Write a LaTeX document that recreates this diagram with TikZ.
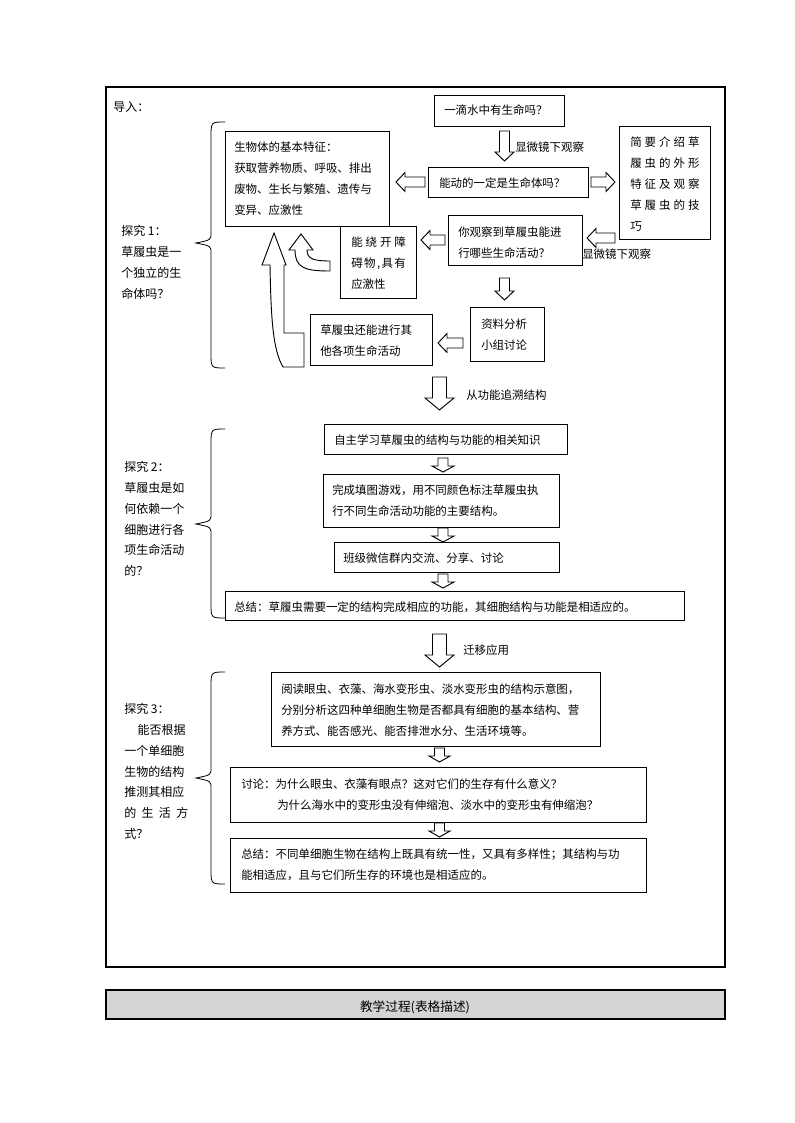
\documentclass[tikz,border=0pt]{standalone}
\usepackage{fontspec}
\setmainfont{Noto Sans CJK SC}
\begin{document}
\begin{tikzpicture}[x=0.75pt,y=-0.75pt,
  box/.style={draw,line width=0.7pt},
  txt/.style={anchor=west,align=left,inner sep=0pt,font=\fontsize{8.6}{15.8}\selectfont},
  side/.style={anchor=west,align=left,inner sep=0pt,font=\fontsize{9}{15.6}\selectfont},
  blk/.style={draw,line width=0.7pt,fill=white}]
\newcommand\darr[6]{\draw[blk] ({#1-#4},#2) -- ({#1+#4},#2) -- ({#1+#4},{#3-#6}) -- ({#1+#5},{#3-#6}) -- (#1,#3) -- ({#1-#5},{#3-#6}) -- ({#1-#4},{#3-#6}) -- cycle;}
\newcommand\larr[3]{\draw[blk] (#1,{#3-5}) -- ({#2+9},{#3-5}) -- ({#2+9},{#3-9.5}) -- (#2,#3) -- ({#2+9},{#3+9.5}) -- ({#2+9},{#3+5}) -- (#1,{#3+5}) -- cycle;}
\newcommand\rarr[3]{\draw[blk] (#1,{#3-5}) -- ({#2-9},{#3-5}) -- ({#2-9},{#3-9.5}) -- (#2,#3) -- ({#2-9},{#3+9.5}) -- ({#2-9},{#3+5}) -- (#1,{#3+5}) -- cycle;}
\newcommand\brc[3]{\draw[line width=0.6pt] (225,#1) .. controls (211,#1) .. (211,{#1+15}) -- (211,{#2-10}) .. controls (211,{#2-3}) .. (196,#2) .. controls (211,{#2+3}) .. (211,{#2+10}) -- (211,{#3-15}) .. controls (211,#3) .. (225,#3);}
\newcommand\spr[2]{\makebox[#1][s]{#2}}
\useasboundingbox (0,0) rectangle (794,1123);
% frame
\draw[line width=0.8pt] (106,87) rectangle (725,967);
\draw[line width=0.8pt,fill=black!17] (106,990) rectangle (725,1019);
\node[txt,anchor=center] (title) at (415,1007) {\fontsize{9.5}{12}\selectfont 教学过程(表格描述)};
\node[side] (intro) at (113,107) {导入：};
% section 1
\draw[box] (434,95) rectangle (564,126); \node[txt] (q1) at (444,110) {一滴水中有生命吗？};
\draw[box] (225,131) rectangle (389,226); \node[txt] (feat) at (234,179) {生物体的基本特征：\\获取营养物质、呼吸、排出\\废物、生长与繁殖、遗传与\\变异、应激性};
\draw[box] (428,167) rectangle (588,197); \node[txt] (move) at (439,183) {能动的一定是生命体吗？};
\draw[box] (619,126) rectangle (710,239); \node[txt] (intr) at (630,184) {\spr{52pt}{简\hfill 要\hfill 介\hfill 绍\hfill 草}\\\spr{52pt}{履\hfill 虫\hfill 的\hfill 外\hfill 形}\\\spr{52pt}{特\hfill 征\hfill 及\hfill 观\hfill 察}\\\spr{52pt}{草\hfill 履\hfill 虫\hfill 的\hfill 技}\\巧};
\draw[box] (448,215) rectangle (582,265); \node[txt] (obs) at (458,243) {你观察到草履虫能进\\行哪些生命活动？};
\draw[box] (340,226) rectangle (416,298); \node[txt] (avoid) at (351,263) {\spr{41pt}{能\hfill 绕\hfill 开\hfill 障}\\\spr{41pt}{碍\hfill 物\hfill ,\hfill 具\hfill 有}\\应激性};
\draw[box] (470,307) rectangle (544,361); \node[txt] (data) at (481,335) {资料分析\\小组讨论};
\draw[box] (310,314) rectangle (432,365); \node[txt] (other) at (320,341) {草履虫还能进行其\\他各项生命活动};
\darr{504.5}{131}{161}{5}{9.5}{9}
\node[txt] (l1) at (515,147) {显微镜下观察};
\larr{425}{396}{182}
\rarr{591}{615}{182}
\larr{615}{587}{238}
\node[txt] (l2) at (582,254) {显微镜下观察};
\larr{445}{421}{240}
\darr{504.5}{278}{300}{5}{9.5}{9}
\larr{463}{438}{343}
% curved arrows
\draw[blk] (295,250) .. controls (295,268) and (305,271) .. (330,271) -- (330,261) .. controls (314,261) and (307,259) .. (307,250) -- (313,250) -- (301,234) -- (289,250) -- cycle;
\draw[blk] (270,265) .. controls (271,320) and (273,350) .. (283,367) -- (304,367) -- (304,333) -- (284,333) -- (284,265) -- (286,265) -- (274,233) -- (262,265) -- cycle;
\brc{122}{243}{368}
\node[side] (s1) at (121,262.5) {探究 1：\\草履虫是一\\个独立的生\\命体吗？};
\darr{439.5}{377}{410}{7}{14.5}{12}
\node[txt] (l3) at (466,395) {从功能追溯结构};
% section 2
\draw[box] (324,424) rectangle (567,454); \node[txt] (self) at (334,440) {自主学习草履虫的结构与功能的相关知识};
\darr{443}{458}{472}{5}{11}{6}
\draw[box] (323,474) rectangle (559,527); \node[txt] (fill) at (332,501) {完成填图游戏，用不同颜色标注草履虫执\\行不同生命活动功能的主要结构。};
\darr{443}{528}{542}{5}{11}{6}
\draw[box] (334,542) rectangle (559,572); \node[txt] (wx) at (343,558) {班级微信群内交流、分享、讨论};
\darr{443}{574}{588}{5}{11}{6}
\draw[box] (225,591) rectangle (684,620); \node[txt] (sum2) at (234,607) {总结：草履虫需要一定的结构完成相应的功能，其细胞结构与功能是相适应的。};
\brc{429}{524}{618}
\node[side] (s2) at (124,519) {探究 2：\\草履虫是如\\何依赖一个\\细胞进行各\\项生命活动\\的？};
\darr{439.5}{634}{667}{7}{14.5}{12}
\node[txt] (l4) at (463,650) {迁移应用};
% section 3
\draw[box] (271,672) rectangle (600,746); \node[txt] (read) at (281,710) {阅读眼虫、衣藻、海水变形虫、淡水变形虫的结构示意图，\\分别分析这四种单细胞生物是否都具有细胞的基本结构、营\\养方式、能否感光、能否排泄水分、生活环境等。};
\darr{439.5}{748}{762}{5}{10.5}{6}
\draw[box] (230,767) rectangle (646,822); \node[txt] (disc) at (241,795) {讨论：为什么眼虫、衣藻有眼点？这对它们的生存有什么意义？\\\hspace*{27pt}为什么海水中的变形虫没有伸缩泡、淡水中的变形虫有伸缩泡？};
\darr{439.5}{823}{837}{5}{10.5}{6}
\draw[box] (230,838) rectangle (646,892); \node[txt] (sum3) at (241,865) {总结：不同单细胞生物在结构上既具有统一性，又具有多样性；其结构与功\\能相适应，且与它们所生存的环境也是相适应的。};
\brc{672}{778}{884}
\node[side] (s3) at (124,771.5) {探究 3：\\\hspace*{10pt}能否根据\\一个单细胞\\生物的结构\\推测其相应\\\spr{48pt}{的\hfill 生\hfill 活\hfill 方}\\式？};
\end{tikzpicture}
\end{document}
